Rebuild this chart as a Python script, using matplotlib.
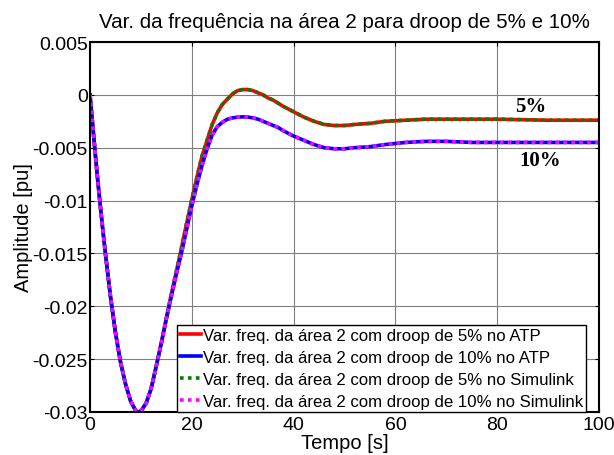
import numpy as np
import matplotlib
matplotlib.use('Agg')
import matplotlib.pyplot as plt
from matplotlib.ticker import FuncFormatter

plt.rcParams['font.family'] = ['Liberation Sans', 'DejaVu Sans']

# Tempo [s] e variação da frequência [pu]
t_5 = [0, 0.5, 1, 1.5, 2, 2.5, 3, 4, 5, 6, 7, 8, 9, 9.5, 10, 11, 12, 13, 14,
       15, 16, 17, 18, 19, 20, 21, 22, 23, 24, 25, 26, 27, 28, 29, 30, 31, 32,
       33, 34, 35, 36, 37, 38, 40, 42, 44, 46, 48, 50, 52, 55, 58, 62, 66, 70,
       75, 80, 90, 100]
f_5 = [0, -0.0027, -0.0054, -0.0080, -0.0104, -0.0127, -0.0149, -0.0190,
       -0.0225, -0.0253, -0.0274, -0.0290, -0.0299, -0.0300, -0.0299, -0.0292,
       -0.0278, -0.0257, -0.0235,
       -0.0211, -0.0188, -0.0166, -0.0144, -0.0121, -0.0099, -0.0078, -0.0058,
       -0.0043, -0.0028, -0.0017, -0.0009, -0.0004, 0.0001, 0.0004, 0.0005,
       0.0005, 0.0004, 0.0002, 0.0000, -0.0003, -0.0005, -0.0008, -0.0011,
       -0.0016, -0.0021, -0.0025, -0.0028, -0.0029, -0.0029, -0.0028, -0.0027,
       -0.0025, -0.0024, -0.0023, -0.0023, -0.0023, -0.0023, -0.0024, -0.0024]

t_10 = t_5
f_10 = [0, -0.0027, -0.0054, -0.0080, -0.0104, -0.0127, -0.0149, -0.0190,
        -0.0225, -0.0253, -0.0274, -0.0290, -0.0299, -0.0300, -0.0299, -0.0292,
        -0.0278, -0.0257, -0.0235,
        -0.0212, -0.0190, -0.0169, -0.0149, -0.0127, -0.0105, -0.0085, -0.0067,
        -0.0051, -0.0038, -0.0030, -0.0026, -0.0023, -0.00218, -0.00211,
        -0.00208, -0.0021, -0.00218, -0.0023, -0.0025, -0.0027, -0.0029,
        -0.0031, -0.0034, -0.0039, -0.0043, -0.0047, -0.0050, -0.0051, -0.0051,
        -0.0050, -0.0049, -0.0047, -0.0045, -0.0044, -0.0044, -0.0045, -0.0045,
        -0.0045, -0.0045]

labels = ['Var. freq. da área 2 com droop de 5% no ATP',
          'Var. freq. da área 2 com droop de 10% no ATP',
          'Var. freq. da área 2 com droop de 5% no Simulink',
          'Var. freq. da área 2 com droop de 10% no Simulink']

fig = plt.figure(figsize=(6.14, 4.56), dpi=100)
ax = fig.add_axes([0.1466, 0.0943, 0.829, 0.8114])

ax.plot(t_5, f_5, color='red', lw=2.6, label=labels[0])
ax.plot(t_10, f_10, color='blue', lw=2.6, label=labels[1])
ax.plot(t_5, f_5, color='green', lw=2.6, ls=(0, (1, 1.2)), label=labels[2])
ax.plot(t_10, f_10, color='magenta', lw=2.6, ls=(0, (1, 1.2)), label=labels[3])

ax.set_xlim(0, 100)
ax.set_ylim(-0.03, 0.005)
ax.set_xticks(np.arange(0, 101, 20))
ax.set_yticks(np.arange(-0.03, 0.0051, 0.005))
ax.yaxis.set_major_formatter(FuncFormatter(lambda v, p: '%g' % round(v, 4)))
ax.grid(True, color='#808080', lw=0.8)
ax.tick_params(direction='in', top=True, right=True, labelsize=14, length=3,
               pad=1.5)
ax.tick_params(axis='x', pad=3)
for s in ax.spines.values():
    s.set_linewidth(1.5)

ax.set_title('Var. da frequência na área 2 para droop de 5% e 10%',
             fontsize=14.8, pad=11)
ax.set_xlabel('Tempo [s]', fontsize=14.5, labelpad=0)
ax.set_ylabel('Amplitude [pu]', fontsize=14.5, labelpad=0)

ax.text(86.6, -0.0011, '5%', family='Liberation Serif', weight='bold',
        fontsize=15, ha='center', va='center')
ax.text(88.5, -0.0062, '10%', family='Liberation Serif', weight='bold',
        fontsize=15, ha='center', va='center')

leg = ax.legend(loc='lower right', bbox_to_anchor=(0.975, 0.0),
                borderaxespad=0, fontsize=12.1, handlelength=1.25,
                handletextpad=0.12, labelspacing=0.42, borderpad=0.18,
                fancybox=False, framealpha=1)
leg.get_frame().set_edgecolor('black')
leg.get_frame().set_linewidth(1.0)

fig.savefig('out.png', dpi=100)
